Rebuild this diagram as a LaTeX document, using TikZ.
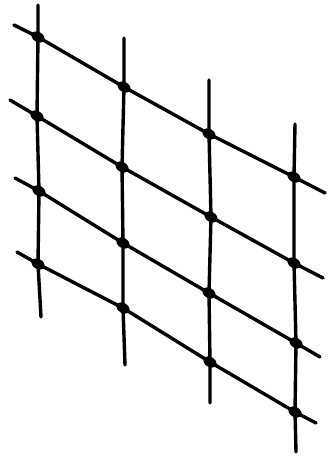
\documentclass[tikz,border=0pt]{standalone}
\usetikzlibrary{shapes.geometric}
\begin{document}
\begin{tikzpicture}[x=1pt,y=-1pt,
  wire/.style={line width=3.4pt,line cap=round,line join=round,black},
  knot/.style={ellipse,fill=black,inner sep=0pt,minimum width=14pt,minimum height=10pt,rotate=-30}]
\useasboundingbox (0,0) rectangle (334,461);
% intersections (row r, column c)
\node[knot] (a1) at (38,37) {};
\node[knot] (a2) at (124,87) {};
\node[knot] (a3) at (209,134) {};
\node[knot] (a4) at (294,177) {};
\node[knot] (b1) at (37,116) {};
\node[knot] (b2) at (122,167) {};
\node[knot] (b3) at (211,217) {};
\node[knot] (b4) at (294,263) {};
\node[knot] (c1) at (39,191) {};
\node[knot] (c2) at (123,243) {};
\node[knot] (c3) at (209,293) {};
\node[knot] (c4) at (296,343) {};
\node[knot] (d1) at (38,264) {};
\node[knot] (d2) at (123,308) {};
\node[knot] (d3) at (210,362) {};
\node[knot] (d4) at (295,412) {};
% free ends
\coordinate (t1) at (38,5);   \coordinate (e1) at (41,317);
\coordinate (t2) at (124,38); \coordinate (e2) at (125,365);
\coordinate (t3) at (209,80); \coordinate (e3) at (210,403);
\coordinate (t4) at (295,124);\coordinate (e4) at (296,452);
\coordinate (la) at (14,25);  \coordinate (ra) at (325,193);
\coordinate (lb) at (10,100); \coordinate (rb) at (323,278);
\coordinate (lc) at (15,178); \coordinate (rc) at (320,357);
\coordinate (ld) at (17,252); \coordinate (rd) at (316,423);
% verticals
\draw[wire] (t1) -- (a1.center) -- (b1.center) -- (c1.center) -- (d1.center) -- (e1);
\draw[wire] (t2) -- (a2.center) -- (b2.center) -- (c2.center) -- (d2.center) -- (e2);
\draw[wire] (t3) -- (a3.center) -- (b3.center) -- (c3.center) -- (d3.center) -- (e3);
\draw[wire] (t4) -- (a4.center) -- (b4.center) -- (c4.center) -- (d4.center) -- (e4);
% slanted rows
\draw[wire] (la) -- (a1.center) -- (a2.center) -- (a3.center) -- (a4.center) -- (ra);
\draw[wire] (lb) -- (b1.center) -- (b2.center) -- (b3.center) -- (b4.center) -- (rb);
\draw[wire] (lc) -- (c1.center) -- (c2.center) -- (c3.center) -- (c4.center) -- (rc);
\draw[wire] (ld) -- (d1.center) -- (d2.center) -- (d3.center) -- (d4.center) -- (rd);
\end{tikzpicture}
\end{document}
